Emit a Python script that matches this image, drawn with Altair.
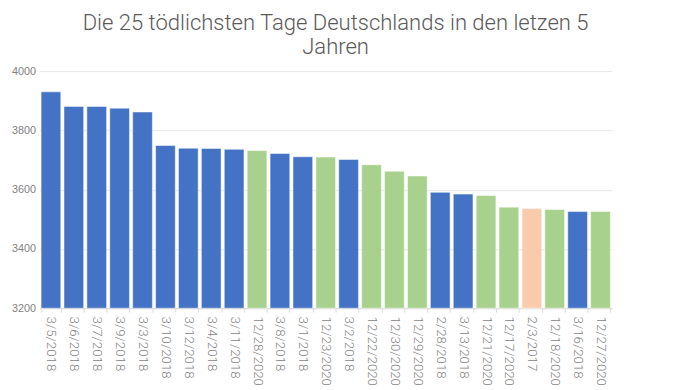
import altair as alt
import pandas as pd

dates = ["3/5/2018", "3/6/2018", "3/7/2018", "3/9/2018", "3/3/2018", "3/10/2018",
         "3/12/2018", "3/4/2018", "3/11/2018", "12/28/2020", "3/8/2018", "3/1/2018",
         "12/23/2020", "3/2/2018", "12/22/2020", "12/30/2020", "12/29/2020",
         "2/28/2018", "3/13/2018", "12/21/2020", "12/17/2020", "2/3/2017",
         "12/18/2020", "3/16/2018", "12/27/2020"]
deaths = [3930, 3881, 3881, 3875, 3862, 3749, 3740, 3739, 3736, 3732, 3722, 3711,
          3710, 3702, 3684, 3662, 3646, 3591, 3585, 3580, 3541, 3536, 3533, 3526, 3526]
years = [d.split("/")[-1] for d in dates]

year_domain = ["2018", "2020", "2017"]
year_colors = ["#4472C4", "#A9D18E", "#F8CBAD"]

df = pd.DataFrame({"date": dates, "deaths": deaths, "year": years})

chart = alt.Chart(df).mark_bar(
    stroke="#ffffff", strokeOpacity=0.5, strokeWidth=1
).encode(
    x=alt.X("date:N", sort=dates, title=None,
            scale=alt.Scale(paddingInner=0.14, paddingOuter=0.07),
            axis=alt.Axis(labelAngle=90, labelAlign="left", labelBaseline="middle",
                          labelFontSize=13.5, labelColor="#7f7f7f", labelFont="Roboto",
                          labelFontWeight=300,
                          tickBand="extent", tickColor="#d9d9d9", tickSize=4,
                          domain=True, domainColor="#d9d9d9", labelPadding=4,
                          grid=False)),
    y=alt.Y("deaths:Q", title=None,
            scale=alt.Scale(domain=[3200, 4000], zero=False, nice=False, clamp=True),
            axis=alt.Axis(values=[3200, 3400, 3600, 3800, 4000], format="d",
                          labelFontSize=11,
                          labelColor="#7f7f7f", labelFont="Liberation Sans",
                          domain=False, ticks=False, labelPadding=4,
                          gridColor="#e6e6e6", gridWidth=1)),
    y2=alt.datum(3200),
    color=alt.Color("year:N", scale=alt.Scale(domain=year_domain, range=year_colors),
                    legend=None),
).properties(
    width=582,
    height=241,
    title=alt.TitleParams(
        text=["Die 25 tödlichsten Tage Deutschlands in den letzen 5", "Jahren"],
        fontSize=22.4, font="Roboto", fontWeight=300, color="#595959",
        anchor="middle", lineHeight=24, offset=7, dx=10,
    ),
    autosize=alt.AutoSizeParams(type="none"),
    padding={"left": 32, "top": 61, "right": 60, "bottom": 80},
).configure_view(stroke=None)

chart.save("out.html", embed_options={"renderer": "svg", "actions": False})
